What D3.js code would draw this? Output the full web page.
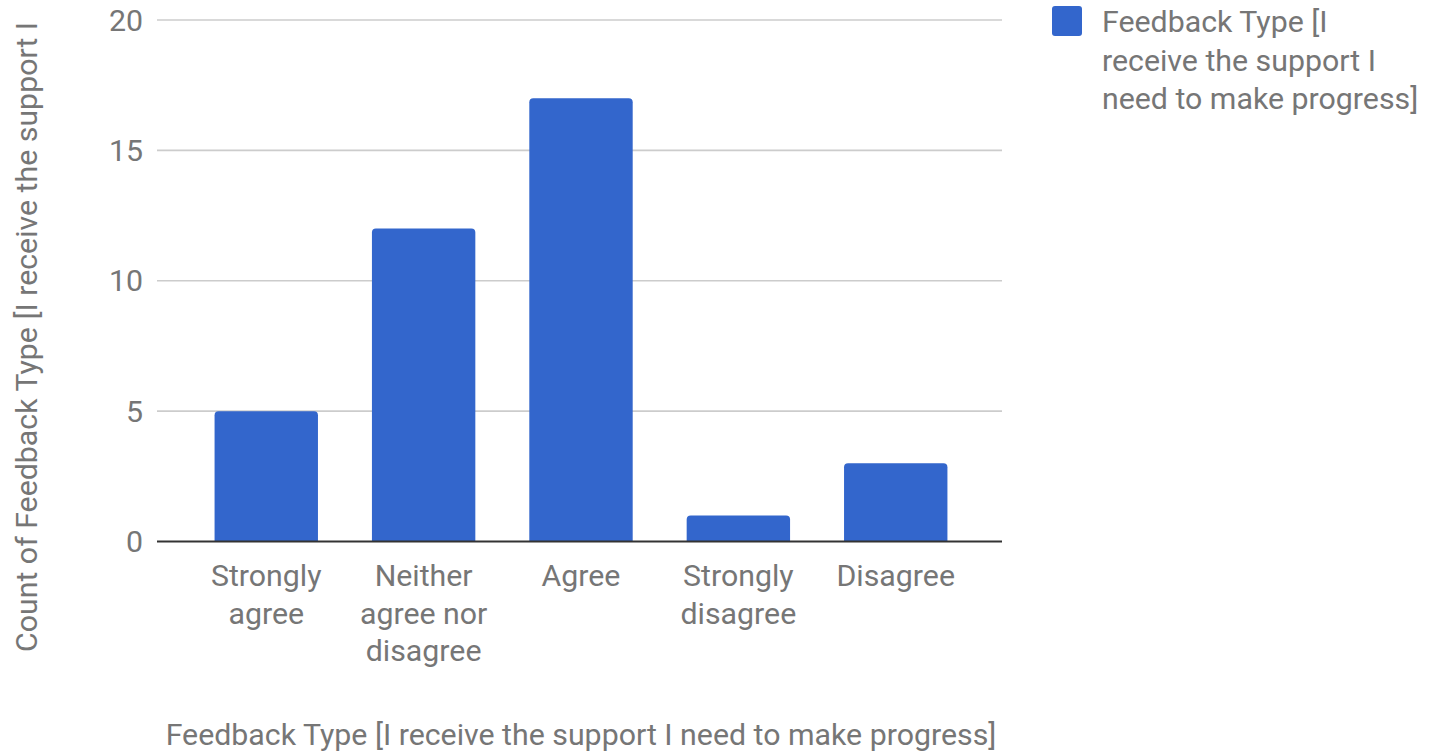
<!DOCTYPE html>
<html>
<head>
<meta charset="utf-8">
<script src="https://cdn.jsdelivr.net/npm/d3@7"></script>
<style>
  html, body { margin: 0; padding: 0; background: #fff; }
  svg { display: block; font-family: Roboto, "Noto Sans", sans-serif; }
</style>
</head>
<body>
<svg id="chart" width="1430" height="751"></svg>
<script>
// Survey responses: "I receive the support I need to make progress"
const categories = ["Strongly agree", "Neither agree nor disagree", "Agree", "Strongly disagree", "Disagree"];
const categoryLines = [["Strongly", "agree"], ["Neither", "agree nor", "disagree"], ["Agree"], ["Strongly", "disagree"], ["Disagree"]];
const counts = [5, 12, 17, 1, 3];
const yTicks = [0, 5, 10, 15, 20];
const seriesName = "Feedback Type [I receive the support I need to make progress]";
const legendLines = ["Feedback Type [I", "receive the support I", "need to make progress]"];
const yTitle = "Count of Feedback Type [I receive the support I";

const barColor = "#3366cc";
const textColor = "#767676";
const fontSize = 30.3;

const svg = d3.select("#chart");

const plot = { left: 157, right: 1002, top: 20, bottom: 541.5 };

const y = d3.scaleLinear().domain([0, 20]).range([plot.bottom, plot.top]);
const x = d3.scaleBand().domain(categories).range([187.5, 974.5]).paddingInner(0.343).paddingOuter(0.172);

// Horizontal gridlines
svg.append("g")
  .selectAll("line")
  .data(yTicks.filter(d => d !== 0))
  .join("line")
  .attr("x1", plot.left).attr("x2", plot.right)
  .attr("y1", d => y(d)).attr("y2", d => y(d))
  .attr("stroke", "#cccccc").attr("stroke-width", 1.6);

// Y tick labels
svg.append("g")
  .selectAll("text")
  .data(yTicks)
  .join("text")
  .attr("x", 143)
  .attr("y", d => y(d))
  .attr("dy", "0.35em")
  .attr("text-anchor", "end")
  .attr("fill", textColor)
  .attr("font-size", fontSize)
  .text(d => d);

// Bars with rounded top corners
const r = 4;
function barPath(d, i) {
  const x0 = x(categories[i]);
  const w = x.bandwidth();
  const y0 = y(0);
  const y1 = y(d);
  const rr = Math.min(r, (y0 - y1) / 2);
  return `M${x0},${y0} V${y1 + rr} Q${x0},${y1} ${x0 + rr},${y1} H${x0 + w - rr} Q${x0 + w},${y1} ${x0 + w},${y1 + rr} V${y0} Z`;
}
svg.append("g")
  .selectAll("path")
  .data(counts)
  .join("path")
  .attr("d", barPath)
  .attr("fill", barColor);

// Baseline
svg.append("line")
  .attr("x1", plot.left).attr("x2", plot.right)
  .attr("y1", y(0)).attr("y2", y(0))
  .attr("stroke", "#333333").attr("stroke-width", 2);

// Category labels (wrapped)
const catG = svg.append("g");
categoryLines.forEach((lines, i) => {
  const t = catG.append("text")
    .attr("x", x(categories[i]) + x.bandwidth() / 2)
    .attr("y", 586)
    .attr("text-anchor", "middle")
    .attr("fill", textColor)
    .attr("font-size", fontSize);
  lines.forEach((ln, j) => {
    t.append("tspan")
      .attr("x", x(categories[i]) + x.bandwidth() / 2)
      .attr("dy", j === 0 ? 0 : 37.7)
      .text(ln);
  });
});

// X axis title
svg.append("text")
  .attr("x", 581)
  .attr("y", 745)
  .attr("text-anchor", "middle")
  .attr("fill", textColor)
  .attr("font-size", fontSize)
  .text(seriesName);

// Y axis title
svg.append("text")
  .attr("transform", "translate(37,652) rotate(-90)")
  .attr("text-anchor", "start")
  .attr("fill", textColor)
  .attr("font-size", fontSize)
  .text(yTitle);

// Legend
const lg = svg.append("g");
lg.append("rect")
  .attr("x", 1052).attr("y", 6)
  .attr("width", 30).attr("height", 30)
  .attr("rx", 3)
  .attr("fill", barColor);
const lt = lg.append("text")
  .attr("x", 1102).attr("y", 32)
  .attr("fill", textColor)
  .attr("font-size", fontSize);
legendLines.forEach((ln, j) => {
  lt.append("tspan").attr("x", 1102).attr("dy", j === 0 ? 0 : 38.5).text(ln);
});
</script>
</body>
</html>
